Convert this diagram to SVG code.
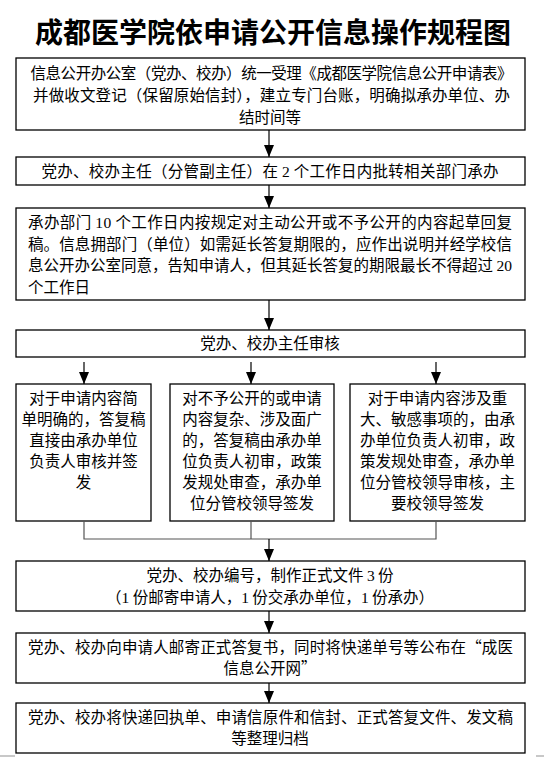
<svg xmlns="http://www.w3.org/2000/svg" width="544" height="758" viewBox="0 0 544 758">
<style>
.box{fill:#fff;stroke:#000;stroke-width:1.3}
.t{font-family:"Noto Sans CJK SC","Liberation Serif",sans-serif;font-size:15.5px;fill:#000}
.c{text-anchor:middle}
.d{font-family:"Liberation Serif","Noto Sans CJK SC",serif}
.title{font-family:"Noto Sans CJK SC",sans-serif;font-size:28px;font-weight:700;fill:#000;text-anchor:middle}
.ln{stroke:#000;stroke-width:1.2;fill:none}
.gl{stroke:#555;stroke-width:1.2;fill:none}
.pg{stroke:#c8c8c8;stroke-width:2}
</style>
<defs>
<marker id="ah" markerUnits="userSpaceOnUse" markerWidth="12" markerHeight="10" refX="12" refY="5" orient="auto">
<path d="M0,0 L12,5 L0,10 z" fill="#000"/>
</marker>
</defs>
<rect width="544" height="758" fill="#fff"/>
<text class="title" x="273" y="43" textLength="476" lengthAdjust="spacingAndGlyphs">成都医学院依申请公开信息操作规程图</text>

<g id="n1">
<rect class="box" x="16" y="58" width="509" height="72"/>
<text class="t" x="30.5" y="79" textLength="482">信息公开办公室（党办、校办）统一受理《成都医学院信息公开申请表》</text>
<text class="t" x="33" y="101" textLength="477">并做收文登记（保留原始信封），建立专门台账，明确拟承办单位、办</text>
<text class="t c" x="270" y="123">结时间等</text>
</g>

<g id="n2">
<rect class="box" x="16" y="157" width="509" height="28"/>
<text class="t c" x="270" y="177" textLength="457">党办、校办主任（分管副主任）在 <tspan class="d">2</tspan> 个工作日内批转相关部门承办</text>
</g>

<g id="n3">
<rect class="box" x="16" y="208" width="509" height="92"/>
<text class="t" x="28" y="228" textLength="484">承办部门 <tspan class="d">10</tspan> 个工作日内按规定对主动公开或不予公开的内容起草回复</text>
<text class="t" x="28" y="249.5" textLength="484">稿。信息拥部门（单位）如需延长答复期限的，应作出说明并经学校信</text>
<text class="t" x="28" y="271" textLength="484">息公开办公室同意，告知申请人，但其延长答复的期限最长不得超过 <tspan class="d">20</tspan></text>
<text class="t" x="28" y="292.5">个工作日</text>
</g>

<g id="n4">
<rect class="box" x="16" y="330" width="509" height="27"/>
<text class="t c" x="270" y="349">党办、校办主任审核</text>
</g>

<g id="n5">
<rect class="box" x="16" y="384" width="135" height="137"/>
<text class="t c" x="83.5" y="404">对于申请内容简</text>
<text class="t c" x="83.5" y="425">单明确的，答复稿</text>
<text class="t c" x="83.5" y="446">直接由承办单位</text>
<text class="t c" x="83.5" y="467">负责人审核并签</text>
<text class="t c" x="83.5" y="488">发</text>
</g>

<g id="n6">
<rect class="box" x="170" y="384" width="164" height="137"/>
<text class="t c" x="252" y="404">对不予公开的或申请</text>
<text class="t c" x="252" y="425">内容复杂、涉及面广</text>
<text class="t c" x="252" y="446">的，答复稿由承办单</text>
<text class="t c" x="252" y="467">位负责人初审，政策</text>
<text class="t c" x="252" y="488">发规处审查，承办单</text>
<text class="t c" x="252" y="509">位分管校领导签发</text>
</g>

<g id="n7">
<rect class="box" x="350" y="384" width="175" height="137"/>
<text class="t c" x="437.5" y="404">对于申请内容涉及重</text>
<text class="t c" x="437.5" y="425">大、敏感事项的，由承</text>
<text class="t c" x="437.5" y="446">办单位负责人初审，政</text>
<text class="t c" x="437.5" y="467">策发规处审查，承办单</text>
<text class="t c" x="437.5" y="488">位分管校领导审核，主</text>
<text class="t c" x="437.5" y="509">要校领导签发</text>
</g>

<g id="n8">
<rect class="box" x="16" y="561" width="509" height="50"/>
<text class="t c" x="270" y="581">党办、校办编号，制作正式文件 <tspan class="d">3</tspan> 份</text>
<text class="t c" x="270" y="603">（<tspan class="d">1</tspan> 份邮寄申请人，<tspan class="d">1</tspan> 份交承办单位，<tspan class="d">1</tspan> 份承办）</text>
</g>

<g id="n9">
<rect class="box" x="16" y="633" width="509" height="50"/>
<text class="t" x="28" y="653" textLength="485">党办、校办向申请人邮寄正式答复书，同时将快递单号等公布在“成医</text>
<text class="t c" x="270" y="674">信息公开网”</text>
</g>

<g id="n10">
<rect class="box" x="16" y="703" width="509" height="50"/>
<text class="t" x="28" y="723" textLength="485">党办、校办将快递回执单、申请信原件和信封、正式答复文件、发文稿</text>
<text class="t c" x="270" y="744">等整理归档</text>
</g>

<g id="connectors">
<line class="ln" x1="269" y1="130" x2="269" y2="157" marker-end="url(#ah)"/>
<line class="ln" x1="269" y1="185" x2="269" y2="208" marker-end="url(#ah)"/>
<line class="ln" x1="269" y1="300" x2="269" y2="330" marker-end="url(#ah)"/>
<line class="ln" x1="84" y1="362" x2="84" y2="384" marker-end="url(#ah)"/>
<line class="ln" x1="251" y1="362" x2="251" y2="384" marker-end="url(#ah)"/>
<line class="ln" x1="436" y1="362" x2="436" y2="384" marker-end="url(#ah)"/>
<polyline class="gl" points="84,521 84,539 436,539 436,521"/>
<line class="gl" x1="251" y1="521" x2="251" y2="539"/>
<line class="ln" x1="269" y1="539" x2="269" y2="561" marker-end="url(#ah)"/>
<line class="ln" x1="269" y1="611" x2="269" y2="633" marker-end="url(#ah)"/>
<line class="ln" x1="269" y1="683" x2="269" y2="703" marker-end="url(#ah)"/>
</g>
<line class="pg" x1="0" y1="756" x2="15" y2="756"/>
<line class="pg" x1="536" y1="756" x2="544" y2="756"/>
</svg>
